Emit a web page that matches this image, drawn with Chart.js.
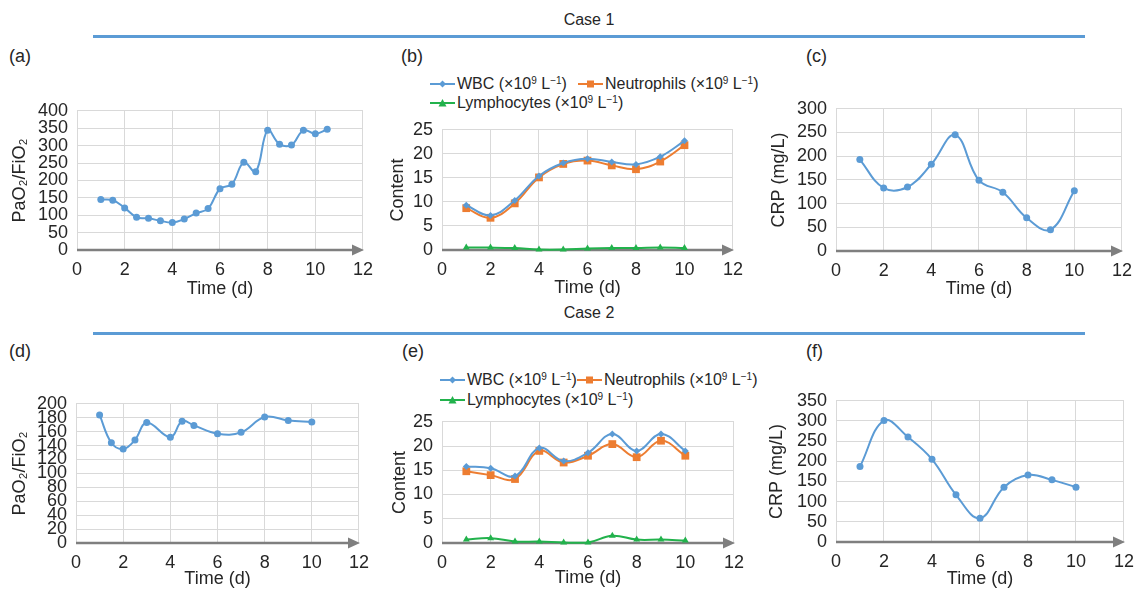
<!DOCTYPE html>
<html>
<head>
<meta charset="utf-8">
<title>Case 1 / Case 2</title>
<script src="https://cdn.jsdelivr.net/npm/chart.js@4.4.1/dist/chart.umd.min.js"></script>
<style>
  body { margin:0; width:1142px; height:590px; background:#fff; position:relative; overflow:hidden;
         font-family:"Liberation Sans", Arial, sans-serif; color:#262626; }
  canvas { position:absolute; }
  .case { position:absolute; font-size:16px; line-height:16px; transform:translate(-50%,-50%); white-space:nowrap; }
  .rule { position:absolute; left:93px; width:992px; height:3px; background:#5b9bd5; }
  .tag { position:absolute; font-size:18px; line-height:18px; transform:translateY(-50%); }
  .leg { position:absolute; font-size:16px; line-height:16px; white-space:nowrap; transform:translateY(-50%); }
  .leg sup { font-size:10px; line-height:0; vertical-align:5px; }
  .mk { position:absolute; transform:translateY(-50%); }
</style>
</head>
<body>

<div class="case" style="left:589px; top:20px;">Case 1</div>
<div class="rule" style="top:35px;"></div>
<div class="case" style="left:589px; top:313px;">Case 2</div>
<div class="rule" style="top:332px;"></div>

<div class="tag" style="left:9px; top:56px;">(a)</div>
<div class="tag" style="left:401px; top:56px;">(b)</div>
<div class="tag" style="left:806px; top:56px;">(c)</div>
<div class="tag" style="left:9px; top:351px;">(d)</div>
<div class="tag" style="left:402px; top:351px;">(e)</div>
<div class="tag" style="left:806px; top:351px;">(f)</div>

<div id="legB"></div>
<div id="legE"></div>

<canvas id="chartA"></canvas>
<canvas id="chartB"></canvas>
<canvas id="chartC"></canvas>
<canvas id="chartD"></canvas>
<canvas id="chartE"></canvas>
<canvas id="chartF"></canvas>

<script>
// ---- dados ----
const xTicks = [0, 2, 4, 6, 8, 10, 12];

// Case 1
const daysA = [1, 1.5, 2, 2.5, 3, 3.5, 4, 4.5, 5, 5.5, 6, 6.5, 7, 7.5, 8, 8.5, 9, 9.5, 10, 10.5];
const pfA = [145, 143, 121, 94, 91, 84, 79, 89, 106, 119, 176, 189, 252, 225, 344, 304, 302, 344, 334, 347];
const pfTicksA = [0, 50, 100, 150, 200, 250, 300, 350, 400];

const days = [1, 2, 3, 4, 5, 6, 7, 8, 9, 10];
const wbcB = [9.3, 7.2, 10.3, 15.4, 18.1, 19.0, 18.3, 17.8, 19.4, 22.7];
const neutB = [8.7, 6.7, 9.7, 15.1, 17.9, 18.6, 17.6, 16.8, 18.4, 21.8];
const lymphB = [0.5, 0.5, 0.4, 0.1, 0.1, 0.3, 0.4, 0.4, 0.5, 0.4];
const contentTicks = [0, 5, 10, 15, 20, 25];

const crpC = [193, 133, 135, 183, 245, 149, 124, 70, 45, 127];
const crpTicksC = [0, 50, 100, 150, 200, 250, 300];

// Case 2
const daysD = [1, 1.5, 2, 2.5, 3, 4, 4.5, 5, 6, 7, 8, 9, 10];
const pfD = [184, 144, 135, 148, 173, 152, 175, 169, 157, 159, 181, 176, 174];
const pfTicksD = [0, 20, 40, 60, 80, 100, 120, 140, 160, 180, 200];

const wbcE = [15.8, 15.4, 13.8, 19.6, 16.9, 18.6, 22.5, 19.0, 22.5, 19.0];
const neutE = [14.8, 14.0, 13.2, 19.0, 16.6, 18.0, 20.4, 17.7, 21.1, 18.0];
const lymphE = [0.7, 1.0, 0.3, 0.3, 0.1, 0.1, 1.5, 0.7, 0.7, 0.5];

const crpF = [187, 301, 260, 205, 117, 59, 136, 166, 154, 136];
const crpTicksF = [0, 50, 100, 150, 200, 250, 300, 350];

const BLUE = '#5b9bd5', ORANGE = '#ed7d31', GREEN = '#22b24c';

Chart.defaults.font.family = '"Liberation Sans", Arial, sans-serif';
Chart.defaults.font.size = 18;
Chart.defaults.color = '#262626';

// seta do eixo x
const axisArrow = {
  id: 'axisArrow',
  beforeDatasetsDraw(chart) {
    const { ctx, chartArea: { left, right, bottom } } = chart;
    ctx.save();
    ctx.strokeStyle = ctx.fillStyle = '#7f7f7f';
    ctx.lineWidth = 2.5;
    ctx.beginPath();
    ctx.moveTo(left, bottom);
    ctx.lineTo(right - 8, bottom);
    ctx.stroke();
    ctx.beginPath();
    ctx.moveTo(right + 1, bottom);
    ctx.lineTo(right - 11, bottom - 5.5);
    ctx.lineTo(right - 11, bottom + 5.5);
    ctx.closePath();
    ctx.fill();
    ctx.restore();
  }
};

const pts = (xs, ys) => xs.map((x, i) => ({ x, y: ys[i] }));

function serie(label, xs, ys, color, style, radius) {
  return {
    label, data: pts(xs, ys),
    borderColor: color, backgroundColor: color,
    borderWidth: 2, tension: 0.4,
    pointStyle: style, pointRadius: radius, pointHoverRadius: radius,
    pointBorderWidth: 0, clip: false
  };
}

function painel(id, box, yTicks, yTitle, datasets) {
  const c = document.getElementById(id);
  const padTop = 12, padRight = 16;
  c.width = box.yW + (box.x1 - box.x0) + padRight;
  c.height = padTop + (box.bot - box.top) + box.xH;
  c.style.left = (box.x0 - box.yW) + 'px';
  c.style.top = (box.top - padTop) + 'px';

  new Chart(c, {
    type: 'line',
    data: { datasets },
    options: {
      responsive: false,
      animation: false,
      layout: { padding: { top: padTop, right: padRight, left: 0, bottom: 0 } },
      plugins: { legend: { display: false }, tooltip: { enabled: false } },
      scales: {
        x: {
          type: 'linear', min: 0, max: 12,
          afterBuildTicks: s => { s.ticks = xTicks.map(v => ({ value: v })); },
          afterFit: s => { s.height = box.xH; },
          grid: { color: '#d9d9d9', drawTicks: false },
          border: { display: false },
          ticks: { padding: 9, autoSkip: false, maxRotation: 0 },
          title: { display: true, text: 'Time (d)', padding: 0 }
        },
        y: {
          type: 'linear', min: 0, max: yTicks[yTicks.length - 1],
          afterBuildTicks: s => { s.ticks = yTicks.map(v => ({ value: v })); },
          afterFit: s => { s.width = box.yW; },
          grid: { color: '#d9d9d9', drawTicks: false },
          border: { display: false },
          ticks: { padding: 9, autoSkip: false },
          title: { display: true, text: yTitle, padding: 0 }
        }
      }
    },
    plugins: [axisArrow]
  });
}

painel('chartA', { x0: 77, x1: 366, top: 103, bot: 250, yW: 68, xH: 50 }, pfTicksA, 'PaO₂/FiO₂',
  [serie('PaO2/FiO2', daysA, pfA, BLUE, 'circle', 3.5)]);

painel('chartB', { x0: 442, x1: 736, top: 122, bot: 250, yW: 55, xH: 49 }, contentTicks, 'Content', [
  serie('WBC', days, wbcB, BLUE, 'rectRot', 3.5),
  serie('Neutrophils', days, neutB, ORANGE, 'rect', 5.5),
  serie('Lymphocytes', days, lymphB, GREEN, 'triangle', 4)
]);

painel('chartC', { x0: 836, x1: 1125, top: 101, bot: 251, yW: 68, xH: 49 }, crpTicksC, 'CRP (mg/L)',
  [serie('CRP', days, crpC, BLUE, 'circle', 3.5)]);

painel('chartD', { x0: 76, x1: 362, top: 396, bot: 543, yW: 67, xH: 47 }, pfTicksD, 'PaO₂/FiO₂',
  [serie('PaO2/FiO2', daysD, pfD, BLUE, 'circle', 3.5)]);

painel('chartE', { x0: 442, x1: 737, top: 414, bot: 543, yW: 53, xH: 46 }, contentTicks, 'Content', [
  serie('WBC', days, wbcE, BLUE, 'rectRot', 3.5),
  serie('Neutrophils', days, neutE, ORANGE, 'rect', 5.5),
  serie('Lymphocytes', days, lymphE, GREEN, 'triangle', 4)
]);

painel('chartF', { x0: 836, x1: 1127, top: 393, bot: 542, yW: 70, xH: 48 }, crpTicksF, 'CRP (mg/L)',
  [serie('CRP', days, crpF, BLUE, 'circle', 3.5)]);

// legendas (b) e (e)
const unit = ' (×10<sup>9</sup> L<sup>−1</sup>)';
const shapes = {
  diamond: '<polygon points="12.5,2.5 16,6 12.5,9.5 9,6"/>',
  square: '<rect x="9" y="2.5" width="7" height="7"/>',
  triangle: '<polygon points="12.5,2 16.5,9.5 8.5,9.5"/>'
};
function legenda(el, items) {
  el.innerHTML = items.map(it =>
    `<svg class="mk" style="left:${it.x}px;top:${it.y}px" width="25" height="12" fill="${it.color}">` +
    `<line x1="0" y1="6" x2="25" y2="6" stroke="${it.color}" stroke-width="2"/>${shapes[it.shape]}</svg>` +
    `<div class="leg" style="left:${it.x + 27}px;top:${it.y}px">${it.name}${unit}</div>`
  ).join('');
}
legenda(document.getElementById('legB'), [
  { name: 'WBC', color: BLUE, shape: 'diamond', x: 430, y: 84 },
  { name: 'Neutrophils', color: ORANGE, shape: 'square', x: 578, y: 84 },
  { name: 'Lymphocytes', color: GREEN, shape: 'triangle', x: 430, y: 103 }
]);
legenda(document.getElementById('legE'), [
  { name: 'WBC', color: BLUE, shape: 'diamond', x: 440, y: 380 },
  { name: 'Neutrophils', color: ORANGE, shape: 'square', x: 577, y: 380 },
  { name: 'Lymphocytes', color: GREEN, shape: 'triangle', x: 440, y: 400 }
]);
</script>
</body>
</html>
